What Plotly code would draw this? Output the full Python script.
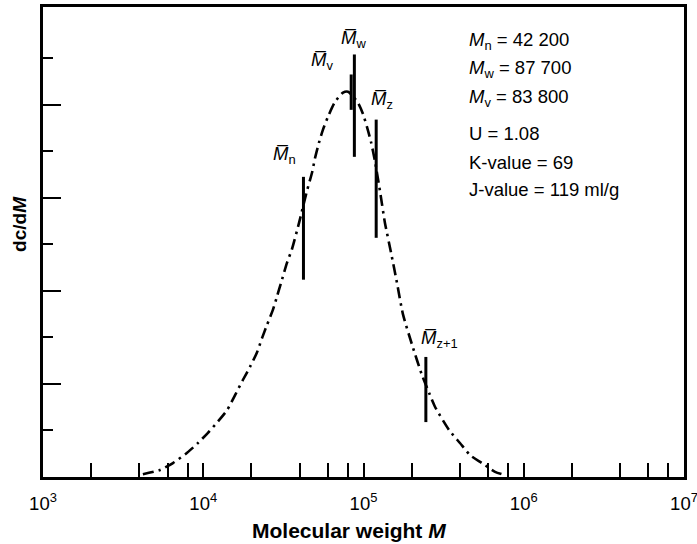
import math
import plotly.graph_objects as go

# Molecular weight distribution curve (differential, dc/dM) read along M
curve_M = [4200, 5370, 6470, 7930, 9270, 10700, 12400, 14100, 15800, 17700,
           19600, 21600, 23300, 25000, 27200, 28800, 31000, 33300, 35800, 39600,
           44400, 47800, 49800, 52700, 55800, 60000, 66400, 74500, 80000, 92500,
           99300, 105200, 111400, 118000, 126800, 136100, 148600, 161800, 176200, 201000,
           231700, 256400, 279300, 342000, 399900, 462400, 548300, 662200, 763800]
curve_dcdM = [0.06, 0.15, 0.30, 0.52, 0.73, 0.95, 1.20, 1.44, 1.76, 2.09,
              2.37, 2.67, 2.99, 3.27, 3.59, 3.87, 4.24, 4.60, 4.90, 5.46,
              6.15, 6.55, 6.85, 7.18, 7.46, 7.74, 8.06, 8.26, 8.28, 8.04,
              7.80, 7.52, 7.20, 6.78, 6.14, 5.46, 4.82, 4.17, 3.50, 2.84,
              2.19, 1.81, 1.51, 1.01, 0.73, 0.47, 0.30, 0.11, 0.04]

# Molecular weight averages: subscript, M value, marker extent on dc/dM scale
avg_sub = ["n", "v", "w", "z", "z+1"]
avg_M = [42200, 83800, 87700, 120000, 245000]
avg_low = [4.24, 7.89, 6.88, 5.14, 1.18]
avg_high = [6.45, 8.65, 9.08, 7.68, 2.58]

# Results listed in the upper right
result_lines = [
    "<i>M</i><sub>n</sub> = 42 200",
    "<i>M</i><sub>w</sub> = 87 700",
    "<i>M</i><sub>v</sub> = 83 800",
    "U = 1.08",
    "K-value = 69",
    "J-value = 119 ml/g",
]

decades = [1e3, 1e4, 1e5, 1e6, 1e7]
decade_labels = ["10<sup>3</sup>", "10<sup>4</sup>", "10<sup>5</sup>",
                 "10<sup>6</sup>", "10<sup>7</sup>"]
minor_mult = [2, 4, 6, 8]

FONT = "Liberation Sans, Arial, Helvetica, sans-serif"

fig = go.Figure()

fig.add_trace(go.Scatter(
    x=curve_M, y=curve_dcdM, mode="lines",
    line=dict(color="black", width=2.6, dash="11px,5px,2.5px,5px",
              shape="spline", smoothing=0.6),
    hoverinfo="skip", showlegend=False,
))

for m, lo, hi in zip(avg_M, avg_low, avg_high):
    fig.add_trace(go.Scatter(
        x=[m, m], y=[lo, hi], mode="lines",
        line=dict(color="black", width=3),
        hoverinfo="skip", showlegend=False,
    ))

# label placement relative to the top of each marker (pixels)
label_shift = [(-19, 22), (-29, 13), (-1, 15), (6, 20), (14, 18)]
for sub, m, hi, (dx, dy) in zip(avg_sub, avg_M, avg_high, label_shift):
    fig.add_annotation(
        x=math.log10(m), y=hi, xref="x", yref="y",
        text=f"<i>M\u0305</i><sub>{sub}</sub>",
        showarrow=False, xanchor="center", yanchor="middle",
        xshift=dx, yshift=dy,
        font=dict(family=FONT, size=18.5, color="black"),
    )

# results text block
line_y_px = [41, 69, 98, 133, 162, 190]
for txt, py in zip(result_lines, line_y_px):
    fig.add_annotation(
        x=(467 - 43) / 641, y=(477 - py) / 470, xref="paper", yref="paper",
        text=txt, showarrow=False, xanchor="left", yanchor="middle",
        font=dict(family=FONT, size=18.5, color="black"),
    )

# axis titles
fig.add_annotation(
    x=-0.036, y=(477 - 224) / 470, xref="paper", yref="paper",
    text="<b>dc/d<i>M</i></b>", textangle=-90, showarrow=False,
    xanchor="center", yanchor="middle",
    font=dict(family=FONT, size=19, color="black"),
)
fig.add_annotation(
    x=(348.5 - 43) / 641, y=(477 - 530) / 470, xref="paper", yref="paper",
    text="<b>Molecular weight <i>M</i></b>", showarrow=False,
    xanchor="center", yanchor="middle",
    font=dict(family=FONT, size=21, color="black"),
)

minor_vals = [k * d for d in decades[:-1] for k in minor_mult]

fig.update_xaxes(
    type="log", range=[3, 7], automargin=False,
    showline=True, linecolor="black", linewidth=2.5, mirror=True,
    showgrid=False, zeroline=False,
    tickmode="array", tickvals=decades, ticktext=decade_labels,
    ticks="inside", ticklen=14, tickwidth=2, tickcolor="black",
    ticklabelstandoff=8, ticklabeloverflow="allow",
    tickfont=dict(family=FONT, size=18.5, color="black"),
    minor=dict(tickmode="array", tickvals=minor_vals, ticks="inside",
               ticklen=14, tickwidth=2, tickcolor="black", showgrid=False),
)

fig.update_yaxes(
    range=[0, 10.1], automargin=False,
    showline=True, linecolor="black", linewidth=2.5, mirror=True,
    showgrid=False, zeroline=False,
    tickmode="array", tickvals=[2, 4, 6, 8], showticklabels=False,
    ticks="inside", ticklen=18, tickwidth=2, tickcolor="black",
    minor=dict(tickmode="array", tickvals=[1, 3, 5, 7, 9], ticks="inside",
               ticklen=10, tickwidth=2, tickcolor="black", showgrid=False),
)

fig.update_layout(
    width=697, height=544,
    margin=dict(l=43, r=13, t=7, b=67),
    plot_bgcolor="white", paper_bgcolor="white",
    font=dict(family=FONT, color="black"),
)

fig.write_html("out.html")
